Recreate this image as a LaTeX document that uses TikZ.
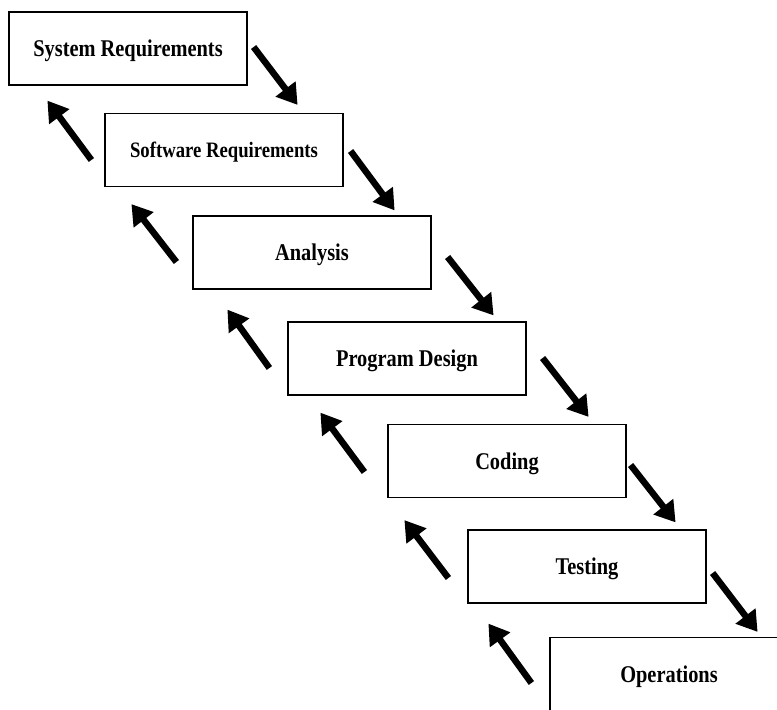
\documentclass[tikz,border=0pt]{standalone}
\usepackage{fontspec}
\usepackage{tikz}
\usetikzlibrary{arrows.meta}
\newfontfamily\boxfont[FakeStretch=0.85]{Liberation Serif}

\begin{document}
\begin{tikzpicture}[x=1pt, y=-1pt,
            box/.style={rectangle, draw=black, line width=1.2pt, fill=white,
                        minimum width=238pt, minimum height=73pt, inner sep=0pt,
                        text depth=0pt,
                        font=\boxfont\bfseries\fontsize{24}{28}\selectfont, align=center},
            arr/.style={-{Triangle[length=20pt, width=24pt]}, black, line width=6.5pt}
          ]
          \clip (0,0) rectangle (777,710);
          \fill[white] (0,0) rectangle (777,710);
          \node[box] (sys) at (128, 48.5) {System Requirements};
          \node[box, font=\boxfont\bfseries\fontsize{22}{26}\selectfont]
                      (sw)  at (224, 150)   {Software Requirements};
          \node[box] (ana) at (312, 252.5)  {Analysis};
          \node[box] (pd)  at (407, 358.5)  {Program Design};
          \node[box] (cod) at (507, 461)    {Coding};
          \node[box] (tst) at (587, 566.5)  {Testing};
          \node[box] (ops) at (669, 674)    {Operations};

          % forward steps
          \draw[arr] ([xshift=6pt, yshift=1.5pt]sys.east)  -- ([xshift=-46pt, yshift=8pt]sw.north east);
          \draw[arr] ([xshift=7pt, yshift=-1pt]sw.east)    -- ([xshift=-37pt, yshift=5pt]ana.north east);
          \draw[arr] ([xshift=16pt, yshift=-4.5pt]ana.east) -- ([xshift=-33pt, yshift=6pt]pd.north east);
          \draw[arr] ([xshift=16pt, yshift=0.5pt]pd.east)  -- ([xshift=-38pt, yshift=7pt]cod.north east);
          \draw[arr] ([xshift=4pt, yshift=-4pt]cod.east)   -- ([xshift=-31pt, yshift=7pt]tst.north east);
          \draw[arr] ([xshift=6pt, yshift=-6.5pt]tst.east) -- ([xshift=-31pt, yshift=5pt]ops.north east);

          % feedback steps
          \draw[arr] ([xshift=-13pt, yshift=-10pt]sw.west)   -- ([xshift=39pt, yshift=-15pt]sys.south west);
          \draw[arr] ([xshift=-16pt, yshift=-9.5pt]ana.west) -- ([xshift=27pt, yshift=-17pt]sw.south west);
          \draw[arr] ([xshift=-18pt, yshift=-9.5pt]pd.west)  -- ([xshift=35pt, yshift=-20pt]ana.south west);
          \draw[arr] ([xshift=-23pt, yshift=-11pt]cod.west)  -- ([xshift=33pt, yshift=-17pt]pd.south west);
          \draw[arr] ([xshift=-19pt, yshift=-11.5pt]tst.west) -- ([xshift=17pt, yshift=-22pt]cod.south west);
          \draw[arr] ([xshift=-18pt, yshift=-9pt]ops.west)   -- ([xshift=21pt, yshift=-20pt]tst.south west);
        \end{tikzpicture}
\end{document}
